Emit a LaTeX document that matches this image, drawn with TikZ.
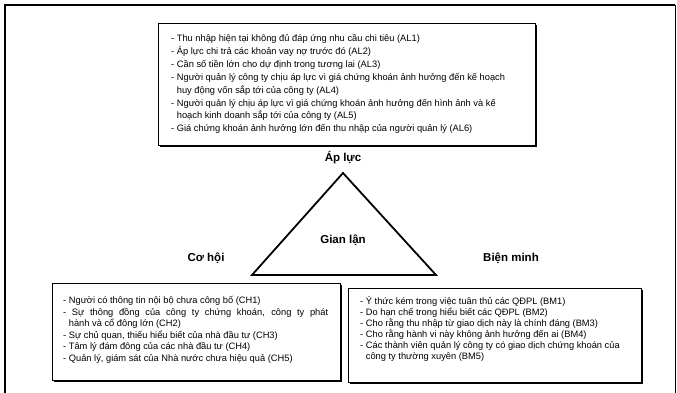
\documentclass[tikz,border=0pt]{standalone}
\usepackage{fontspec}
\setmainfont{Liberation Sans}
\usetikzlibrary{shadows}
\begin{document}
\begin{tikzpicture}[x=1pt,y=-1pt,
  box/.style={draw, line width=1.3pt, fill=white, anchor=north west, inner sep=0pt,
    drop shadow={shadow xshift=1.8pt, shadow yshift=-1.8pt, opacity=1, fill=black}},
  itemtext/.style={anchor=north west, inner sep=0pt, align=left},
  lbl/.style={font=\bfseries\fontsize{11.5}{13}\selectfont, inner sep=0pt}]
\useasboundingbox (0,0) rectangle (677,392);
% outer frame
\draw[line width=2.6pt] (5,400) -- (5,5) -- (675,5);
\draw[line width=1pt] (675,5) -- (675,400);
% boxes
\node[box, minimum width=377pt, minimum height=122pt] (alBox) at (158,23) {};
\node[box, minimum width=288pt, minimum height=97pt] (chBox) at (52,283) {};
\node[box, minimum width=293pt, minimum height=94pt] (bmBox) at (348,288) {};
% texts
\node[itemtext, font=\fontsize{9.3}{12.9}\selectfont] (alText) at (171,34.2) {%
- Thu nhập hiện tại không đủ đáp ứng nhu cầu chi tiêu (AL1)\\
- Áp lực chi trả các khoản vay nợ trước đó (AL2)\\
- Cần số tiền lớn cho dự định trong tương lai (AL3)\\
- Người quản lý công ty chịu áp lực vì giá chứng khoán ảnh hưởng đến kế hoạch\\
\phantom{- }huy động vốn sắp tới của công ty (AL4)\\
- Người quản lý chịu áp lực vì giá chứng khoán ảnh hưởng đến hình ảnh và kế\\
\phantom{- }hoạch kinh doanh sắp tới của công ty (AL5)\\
- Giá chứng khoán ảnh hưởng lớn đến thu nhập của người quản lý (AL6)};
\node[itemtext, font=\fontsize{9.3}{11.6}\selectfont] (chText) at (63,296.2) {%
- Người có thông tin nội bộ chưa công bố (CH1)\\
\makebox[265pt][s]{- Sự thông đồng của công ty chứng khoán, công ty phát}\\
\phantom{- }hành và cổ đông lớn (CH2)\\
- Sự chủ quan, thiếu hiểu biết của nhà đầu tư (CH3)\\
- Tâm lý đám đông của các nhà đầu tư (CH4)\\
- Quản lý, giám sát của Nhà nước chưa hiệu quả (CH5)};
\node[itemtext, font=\fontsize{9.3}{11}\selectfont] (bmText) at (360,296.5) {%
- Ý thức kém trong việc tuân thủ các QĐPL (BM1)\\
- Do hạn chế trong hiểu biết các QĐPL (BM2)\\
- Cho rằng thu nhập từ giao dịch này là chính đáng (BM3)\\
- Cho rằng hành vi này không ảnh hưởng đến ai (BM4)\\
- Các thành viên quản lý công ty có giao dịch chứng khoán của\\
\phantom{- }công ty thường xuyên (BM5)};
% triangle
\coordinate (apex) at (343,173);
\coordinate (bl) at (252,275);
\coordinate (br) at (436,275);
\draw[line width=1.8pt, line join=miter] (apex) -- (bl) -- (br) -- cycle;
% labels
\node[lbl] (ap) at (343,158) {Áp lực};
\node[lbl] (gl) at (343,240) {Gian lận};
\node[lbl] (ch) at (206,258) {Cơ hội};
\node[lbl] (bm) at (511,258) {Biện minh};
\end{tikzpicture}
\end{document}
